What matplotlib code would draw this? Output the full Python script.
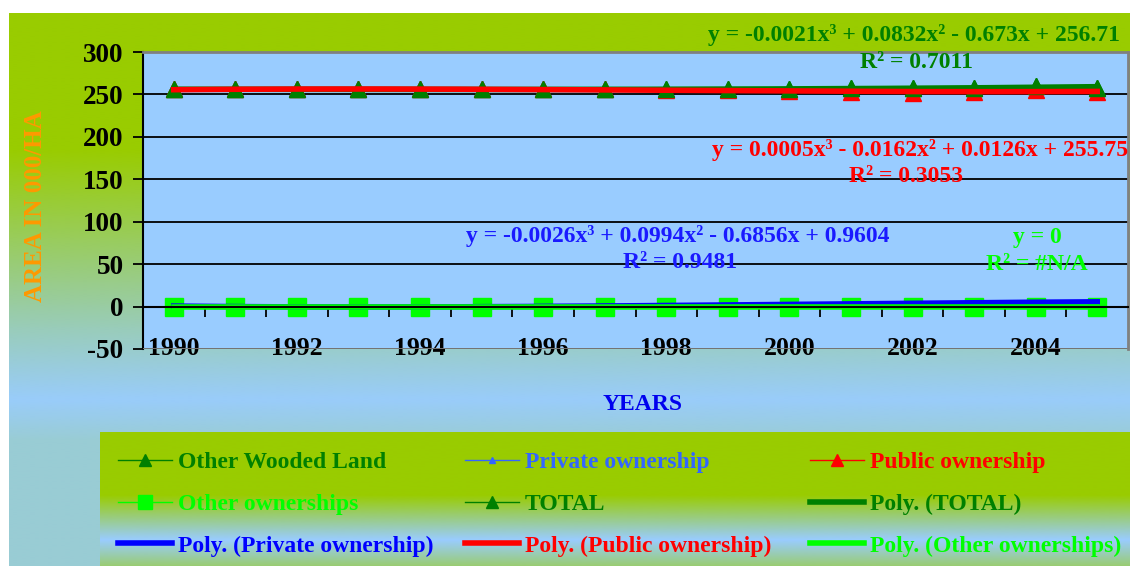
import numpy as np
import matplotlib.pyplot as plt

plt.rcParams['font.family'] = ['Liberation Serif', 'DejaVu Serif']
plt.rcParams['font.weight'] = 'bold'
plt.rcParams['axes.unicode_minus'] = False

# data (000 ha)
years = list(range(1990, 2006))
year_labels = ['1990', '1992', '1994', '1996', '1998', '2000', '2002', '2004']
other_wooded = [256, 256, 256, 256, 256, 256, 256, 256, 256, 256, 256, 257, 257, 258, 260, 258]
private = [0, 0, 0, 0, 0, 0, 0, 0, 1, 1, 2, 4, 5, 5, 5, 5]
public = [256, 256, 256, 256, 256, 256, 256, 256, 255, 255, 254, 253, 252, 253, 255, 253]
other_own = [0, 0, 0, 0, 0, 0, 0, 0, 0, 0, 0, 0, 0, 0, 0, 0]
total = [256, 256, 256, 256, 256, 256, 256, 256, 256, 256, 256, 257, 257, 258, 260, 258]

eq_total = ["y = -0.0021x³ + 0.0832x² - 0.673x + 256.71", "R² = 0.7011"]
eq_public = ["y = 0.0005x³ - 0.0162x² + 0.0126x + 255.75", "R² = 0.3053"]
eq_private = ["y = -0.0026x³ + 0.0994x² - 0.6856x + 0.9604", "R² = 0.9481"]
eq_other = ["y = 0", "R² = #N/A"]

W, H = 1130, 566
fig = plt.figure(figsize=(W / 100, H / 100), dpi=100, facecolor='white')

# background gradients (chart area + legend box)
bg = fig.add_axes([0, 0, 1, 1], zorder=-1)
bg.set_xlim(0, W)
bg.set_ylim(H, 0)
bg.axis('off')
green = np.array([153, 204, 0]) / 255
blue = np.array([153, 204, 250]) / 255
ys = np.linspace(13, H, 300)
t = np.interp(ys, [13, 150, 330, 400, 440, H], [0, 0, 0.75, 1, 0.85, 0.85])[:, None]
grad = (green * (1 - t) + blue * t)[:, None, :]
bg.imshow(grad, extent=(9, W, H, 13), aspect='auto', interpolation='bilinear')
ly = np.linspace(432, H, 200)
lt = np.interp(ly, [432, 495, 540, 566], [0, 0, 1, 0.45])[:, None]
lblue = np.array([153, 204, 255]) / 255
lgrad = (green * (1 - lt) + lblue * lt)[:, None, :]
bg.imshow(lgrad, extent=(100, W, H, 432), aspect='auto', interpolation='bilinear')

# plot area
ax = fig.add_axes([143 / W, 1 - 349 / H, (1128 - 143) / W, (349 - 52) / H])
ax.set_facecolor('#99CCFF')
x = np.arange(1, len(years) + 1)

ax.plot(x, other_wooded, '-^', color='#008000', ms=11, lw=1, label='Other Wooded Land')
ax.plot(x, private, '-^', color='#3366FF', ms=6, lw=1, label='Private ownership')
ax.plot(x, public, '-^', color='#FF0000', ms=11, lw=1, label='Public ownership')
ax.plot(x, other_own, '-s', color='#00FF00', ms=13, lw=1, label='Other ownerships')
ax.plot(x, total, '-^', color='#008000', ms=11, lw=1, label='TOTAL')

xf = np.linspace(1, len(years), 200)
for vals, col, name in [(total, '#008000', 'Poly. (TOTAL)'),
                        (private, '#0000FF', 'Poly. (Private ownership)'),
                        (public, '#FF0000', 'Poly. (Public ownership)'),
                        (other_own, '#00FF00', 'Poly. (Other ownerships)')]:
    c = np.polyfit(x, vals, 3)
    ax.plot(xf, np.polyval(c, xf), color=col, lw=4, label=name)

ax.set_xlim(0.5, len(years) + 0.5)
ax.set_ylim(-50, 300)
ax.set_yticks(range(-50, 301, 50))
ax.grid(axis='y', color='black', lw=1.3)
ax.set_axisbelow(True)
ax.tick_params(axis='y', labelsize=19.5, length=7, width=1.3, direction='out', pad=7)

ax.spines['bottom'].set_position(('data', 0))
ax.spines['bottom'].set_linewidth(1.5)
ax.spines['left'].set_linewidth(1.5)
for s in ['top', 'right']:
    ax.spines[s].set_color('#808080')
    ax.spines[s].set_linewidth(2)
ax.set_xticks(x[::2])
ax.set_xticklabels(year_labels)
ax.set_xticks(np.arange(1.5, len(years), 1), minor=True)
ax.tick_params(axis='x', which='major', length=0, labelsize=18.5, pad=22)
ax.tick_params(axis='x', which='minor', length=7, width=1.3, direction='out')
ax.axhline(-50, color='#808080', lw=2, zorder=3)

fig.text(36 / W, 1 - 206 / H, 'AREA IN 000/HA', rotation=90, color='#FF9900',
         fontsize=18, ha='center', va='center')
fig.text(643 / W, 1 - 404 / H, 'YEARS', color='#0000EE', fontsize=17, ha='center', va='center')

# trendline equations
fig.text(1120 / W, 1 - 35 / H, eq_total[0], color='#008000', fontsize=17, ha='right', va='center')
fig.text(917 / W, 1 - 62 / H, eq_total[1], color='#008000', fontsize=17, ha='center', va='center')
fig.text(1128 / W, 1 - 150 / H, eq_public[0], color='#FF0000', fontsize=17, ha='right', va='center')
fig.text(906 / W, 1 - 177 / H, eq_public[1], color='#FF0000', fontsize=17, ha='center', va='center')
fig.text(678 / W, 1 - 236 / H, eq_private[0], color='#1A1AFF', fontsize=17, ha='center', va='center')
fig.text(680 / W, 1 - 263 / H, eq_private[1], color='#1A1AFF', fontsize=17, ha='center', va='center')
fig.text(1037 / W, 1 - 237 / H, eq_other[0], color='#00FF00', fontsize=17, ha='center', va='center')
fig.text(1037 / W, 1 - 264 / H, eq_other[1], color='#00FF00', fontsize=17, ha='center', va='center')

# legend: three columns, row-major order as in the original
handles, labels = ax.get_legend_handles_labels()
cols = [[0, 3, 6], [1, 4, 7], [2, 5, 8]]
col_x = [106, 453, 798]
for idx, cx in zip(cols, col_x):
    leg = fig.legend([handles[i] for i in idx], [labels[i] for i in idx],
                     loc='upper left', bbox_to_anchor=(cx / W, 1 - 440 / H),
                     frameon=False, fontsize=17, handlelength=2.3, handletextpad=0.25,
                     labelspacing=0.85, borderpad=0, markerscale=0.75)
    for txt, h in zip(leg.get_texts(), leg.legend_handles):
        txt.set_color(h.get_color())

fig.savefig('out.png', dpi=100)
